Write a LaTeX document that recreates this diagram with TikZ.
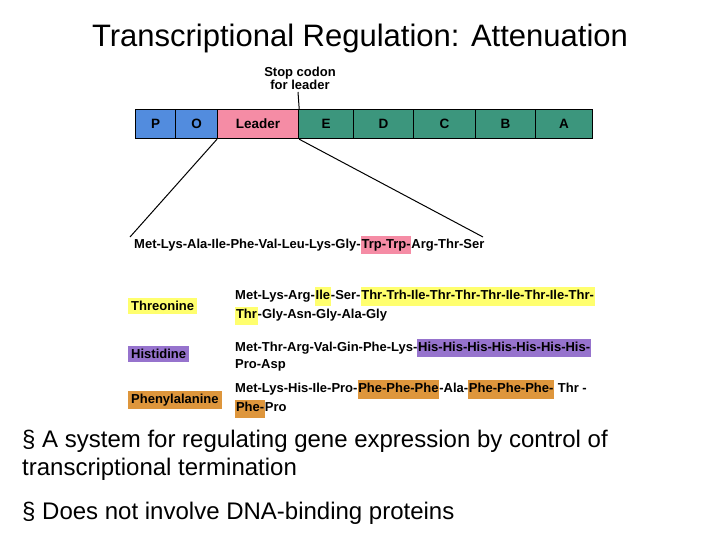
\documentclass[tikz,border=0pt]{standalone}
\usepackage{fontspec}
\setmainfont{Liberation Sans}
\begin{document}
\definecolor{gblue}{RGB}{82,140,222}
\definecolor{gpink}{RGB}{245,140,165}
\definecolor{gteal}{RGB}{60,150,125}
\definecolor{hyel}{RGB}{255,255,110}
\definecolor{hpur}{RGB}{150,115,205}
\definecolor{hora}{RGB}{222,150,60}
\newcommand{\hl}[2]{{\setlength{\fboxsep}{0.8pt}\colorbox{#1}{\strut #2}}}
\begin{tikzpicture}[x=1pt,y=-1pt,
  gene/.style={draw=black,line width=1.2pt,minimum height=29pt,inner sep=0pt,font=\fontsize{13.5}{14}\selectfont\bfseries,anchor=north west},
  seq/.style={anchor=west,inner sep=0pt,font=\fontsize{13}{16.5}\selectfont\bfseries,align=left},
  lab/.style={anchor=west,inner sep=3pt,font=\fontsize{13}{15}\selectfont\bfseries},
  txt/.style={anchor=west,inner sep=0pt,font=\fontsize{24}{28}\selectfont,align=left}]
\useasboundingbox (0,0) rectangle (720,540);
\node[font=\fontsize{31}{34}\selectfont] (title) at (360,38) {Transcriptional Regulation: Attenuation};
\node[gene,fill=gblue,minimum width=40pt] (P) at (135,109) {P};
\node[gene,fill=gblue,minimum width=42pt] (O) at (175,109) {O};
\node[gene,fill=gpink,minimum width=81pt] (L) at (217,109) {Leader};
\node[gene,fill=gteal,minimum width=55pt] (E) at (298,109) {E};
\node[gene,fill=gteal,minimum width=60pt] (D) at (353,109) {D};
\node[gene,fill=gteal,minimum width=62pt] (C) at (413,109) {C};
\node[gene,fill=gteal,minimum width=60pt] (B) at (475,109) {B};
\node[gene,fill=gteal,minimum width=57pt] (A) at (535,109) {A};
\node[font=\fontsize{13}{13}\selectfont\bfseries,align=center,inner sep=0pt] (stop) at (300,78) {Stop codon\\for leader};
\coordinate (stopend) at (298,92);
\draw[line width=1pt] (stopend) -- (L.north east);
\coordinate (s1) at (130,237);
\coordinate (s2) at (483,237);
\draw[line width=1pt] (L.south west) -- (s1);
\draw[line width=1pt] (L.south east) -- (s2);
\node[seq] (lead) at (134,245) {Met-Lys-Ala-Ile-Phe-Val-Leu-Lys-Gly-\hl{gpink}{Trp-Trp-}Arg-Thr-Ser};
\node[lab,fill=hyel] (thr) at (128,306) {Threonine};
\node[lab,fill=hpur] (his) at (128,354) {Histidine};
\node[lab,fill=hora] (phe) at (128,400) {Phenylalanine};
\node[seq] (tseq) at (235,306) {Met-Lys-Arg-\hl{hyel}{Ile}-Ser-\hl{hyel}{Thr-Trh-Ile-Thr-Thr-Thr-Ile-Thr-Ile-Thr-}\\\hl{hyel}{Thr}-Gly-Asn-Gly-Ala-Gly};
\node[seq] (hseq) at (235,355) {Met-Thr-Arg-Val-Gin-Phe-Lys-\hl{hpur}{His-His-His-His-His-His-His-}\\Pro-Asp};
\node[seq] (pseq) at (235,399) {Met-Lys-His-Ile-Pro-\hl{hora}{Phe-Phe-Phe}-Ala-\hl{hora}{Phe-Phe-Phe-} Thr -\\\hl{hora}{Phe-}Pro};
\node[txt] (b1) at (22,455) {§ A system for regulating gene expression by control of\\transcriptional termination};
\node[txt] (b2) at (22,513) {§ Does not involve DNA-binding proteins};
\end{tikzpicture}
\end{document}
